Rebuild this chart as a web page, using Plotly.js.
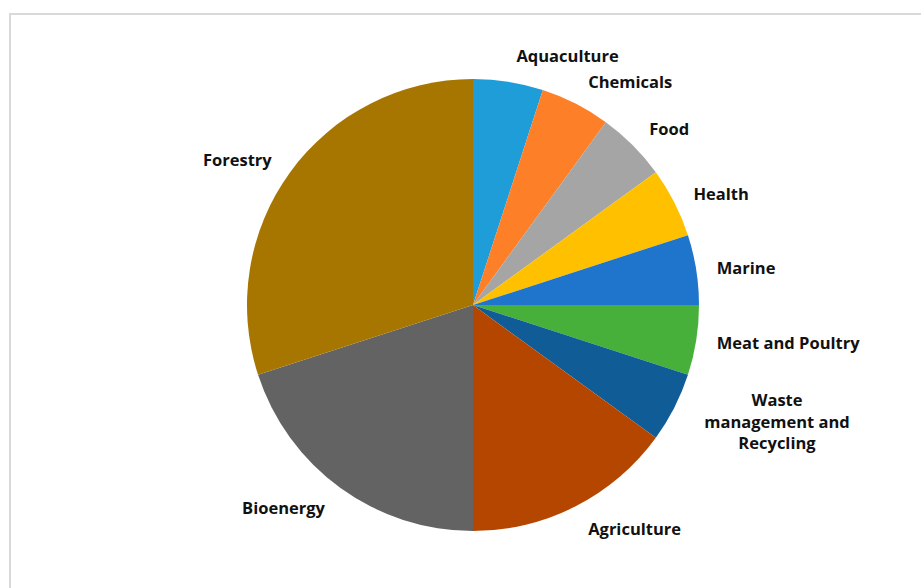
<!DOCTYPE html>
<html>
<head>
<meta charset="utf-8">
<script src="https://cdn.plot.ly/plotly-3.0.1.min.js"></script>
<style>
  html, body { margin: 0; padding: 0; background: #ffffff; overflow: hidden; }
  #frame { position: absolute; left: 9px; top: 13px; width: 1000px; height: 1000px;
           border-left: 2px solid #d9d9d9; border-top: 2px solid #d9d9d9; z-index: 0; }
  #chart { position: absolute; left: 0; top: 0; width: 921px; height: 588px; z-index: 1; }
</style>
</head>
<body>
<div id="frame"></div>
<div id="chart"></div>
<script>
const categories = ["Aquaculture", "Chemicals", "Food", "Health", "Marine",
  "Meat and Poultry", "Waste<br>management and<br>Recycling", "Agriculture", "Bioenergy", "Forestry"];
const values = [5, 5, 5, 5, 5, 5, 5, 15, 20, 30];
const colors = ["#1f9dd9", "#fd7f28", "#a5a5a5", "#ffc000", "#1f74cb",
  "#47b03b", "#0f5c96", "#b54600", "#636363", "#a67600"];

const labelFont = { family: "'Open Sans', Lato, sans-serif", size: 16.5, color: "#111111", weight: "bold" };

// Plot area: 482 px tall; visible pie radius 226, label ring radius 241
const plotH = 482;
const inset = 15 / plotH;

const pieTrace = {
  type: "pie",
  labels: categories,
  values: values,
  sort: false,
  direction: "clockwise",
  rotation: 0,
  domain: { x: [0, 1], y: [inset, 1 - inset] },
  marker: { colors: colors, line: { width: 0 } },
  textinfo: "none",
  automargin: false,
  showlegend: false
};

const labelTrace = {
  type: "pie",
  labels: categories,
  values: values,
  sort: false,
  direction: "clockwise",
  rotation: 0,
  domain: { x: [0, 1], y: [0, 1] },
  marker: { colors: categories.map(() => "rgba(0,0,0,0)"), line: { width: 0 } },
  textinfo: "label",
  textposition: "outside",
  outsidetextfont: labelFont,
  textfont: labelFont,
  automargin: false,
  hoverinfo: "skip",
  showlegend: false
};

const layout = {
  width: 921,
  height: 588,
  margin: { l: 200, r: 175, t: 64, b: 42 },
  paper_bgcolor: "rgba(0,0,0,0)",
  plot_bgcolor: "rgba(0,0,0,0)",
  showlegend: false
};

Plotly.newPlot("chart", [pieTrace, labelTrace], layout, { displayModeBar: false, staticPlot: true });
</script>
</body>
</html>
